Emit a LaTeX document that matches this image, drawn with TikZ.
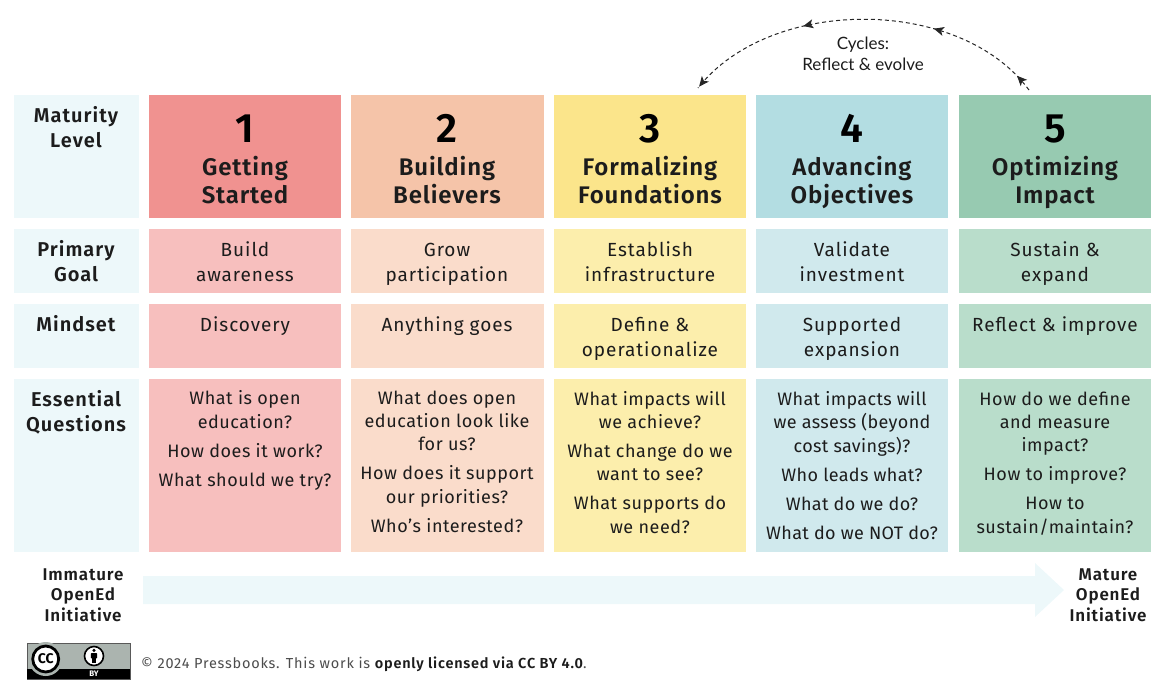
\documentclass[tikz,border=0pt]{standalone}
\usepackage{fontspec}
\setmainfont{Fira Sans}
\newfontfamily\lato{Lato}
\newfontfamily\bodyf{Fira Sans}[LetterSpace=5]
\newfontfamily\qf{Fira Sans}[LetterSpace=3]
\newfontfamily\qdf{Fira Sans}[LetterSpace=2]
\newfontfamily\headf{Fira Sans}[LetterSpace=5,BoldFont={Fira Sans SemiBold}]
\newfontfamily\bigf{Fira Sans}[LetterSpace=3.5,BoldFont={Fira Sans SemiBold}]
\newfontfamily\footf{Fira Sans}[LetterSpace=5.4,BoldFont={Fira Sans SemiBold}]
\newfontfamily\badgef{Fira Sans}[BoldFont={Fira Sans Bold}]
\usetikzlibrary{arrows.meta,decorations.markings}
\definecolor{ink}{HTML}{1C1C1C}
\definecolor{lab}{HTML}{EDF8FA}
\definecolor{badge}{HTML}{ABB4AF}
\definecolor{ca}{HTML}{F09290}\definecolor{cb}{HTML}{F5C4A9}\definecolor{cc}{HTML}{FBE58B}\definecolor{cd}{HTML}{B3DDE2}\definecolor{ce}{HTML}{97CAB1}
\definecolor{la}{HTML}{F7BFBE}\definecolor{lb}{HTML}{FADCCB}\definecolor{lc}{HTML}{FCEEAC}\definecolor{ld}{HTML}{D0E9ED}\definecolor{le}{HTML}{B9DDCB}
\tikzset{
  cellbox/.style={inner sep=0pt,outer sep=0pt,anchor=north west},
  txt/.style={inner sep=0pt,align=center,anchor=base,text=ink,font=\bodyf\fontsize{19}{24.7}\selectfont},
  qtxt/.style={txt,font=\qf\fontsize{18}{23.3}\selectfont},
  qdtxt/.style={txt,font=\qdf\fontsize{18}{23.3}\selectfont},
  head/.style={txt,font=\headf\fontsize{20}{24.2}\selectfont\bfseries},
  big/.style={txt,font=\bigf\fontsize{24}{28}\selectfont\bfseries},
  num/.style={txt,font=\bigf\fontsize{41}{40}\selectfont\bfseries,text=black},
  side/.style={txt,font=\headf\fontsize{17}{20.6}\selectfont\bfseries},
  flow/.style={-,black!85,line width=1pt,dash pattern=on 4pt off 3pt}
}
\newcommand{\cellat}[6]{\node[cellbox,fill=#6,minimum width=#4pt,minimum height=#5pt] (#1) at (#2,#3) {};}
\begin{document}
\begin{tikzpicture}[x=1pt,y=-1pt]
\useasboundingbox (0,0) rectangle (1170,694);
% labels
\cellat{l1}{14}{95}{125}{123}{lab}
\cellat{l2}{14}{229}{125}{64}{lab}
\cellat{l3}{14}{304}{125}{64}{lab}
\cellat{l4}{14}{379}{125}{173}{lab}
\node[head] (t1) at (76,147) {Maturity\\Level};
\node[head] (t2) at (76,281) {Primary\\Goal};
\node[head] (t3) at (76,331) {Mindset};
\node[head] (t4) at (76,431) {Essential\\Questions};
% headers
\cellat{a1}{149}{95}{192}{123}{ca}
\cellat{b1}{351}{95}{193}{123}{cb}
\cellat{c1}{554}{95}{192}{123}{cc}
\cellat{d1}{756}{95}{192}{123}{cd}
\cellat{e1}{959}{95}{192}{123}{ce}
\node[num] (na) at (245,142) {1};
\node[num] (nb) at (447,142) {2};
\node[num] (nc) at (650,142) {3};
\node[num] (nd) at (852,142) {4};
\node[num] (ne) at (1055,142) {5};
\node[big] (ha) at (245,203.5) {Getting\\Started};
\node[big] (hb) at (447,203.5) {Building\\Believers};
\node[big] (hc) at (650,203.5) {Formalizing\\Foundations};
\node[big] (hd) at (852,203.5) {Advancing\\Objectives};
\node[big] (he) at (1055,203.5) {Optimizing\\Impact};
% goal
\cellat{a2}{149}{229}{192}{64}{la}
\cellat{b2}{351}{229}{193}{64}{lb}
\cellat{c2}{554}{229}{192}{64}{lc}
\cellat{d2}{756}{229}{192}{64}{ld}
\cellat{e2}{959}{229}{192}{64}{le}
\node[txt] (ga) at (245,281) {Build\\awareness};
\node[txt] (gb) at (447,281) {Grow\\participation};
\node[txt] (gc) at (650,281) {Establish\\infrastructure};
\node[txt] (gd) at (852,281) {Validate\\investment};
\node[txt] (ge) at (1055,281) {Sustain \&\\expand};
% mindset
\cellat{a3}{149}{304}{192}{64}{la}
\cellat{b3}{351}{304}{193}{64}{lb}
\cellat{c3}{554}{304}{192}{64}{lc}
\cellat{d3}{756}{304}{192}{64}{ld}
\cellat{e3}{959}{304}{192}{64}{le}
\node[txt] (ma) at (245,331) {Discovery};
\node[txt] (mb) at (447,331) {Anything goes};
\node[txt] (mc) at (650,356) {Define \&\\operationalize};
\node[txt] (md) at (852,356) {Supported\\expansion};
\node[txt] (me) at (1055,331) {Reflect \& improve};
% questions
\cellat{a4}{149}{379}{192}{173}{la}
\cellat{b4}{351}{379}{193}{173}{lb}
\cellat{c4}{554}{379}{192}{173}{lc}
\cellat{d4}{756}{379}{192}{173}{ld}
\cellat{e4}{959}{379}{192}{173}{le}
\node[qtxt] (qa) at (245,486) {What is open\\education?\\[5.7pt]How does it work?\\[5.7pt]What should we try?};
\node[qtxt] (qb) at (447,532) {What does open\\education look like\\for us?\\[5.7pt]How does it support\\our priorities?\\[5.7pt]Who’s interested?};
\node[qtxt] (qc) at (650,533) {What impacts will\\we achieve?\\[5.7pt]What change do we\\want to see?\\[5.7pt]What supports do\\we need?};
\node[qdtxt] (qd) at (852,539) {What impacts will\\we assess (beyond\\cost savings)?\\[5.7pt]Who leads what?\\[5.7pt]What do we do?\\[5.7pt]What do we NOT do?};
\node[qtxt] (qe) at (1055,533) {How do we define\\and measure\\impact?\\[5.7pt]How to improve?\\[5.7pt]How to\\sustain/maintain?};
% progress arrow
\fill[lab] (143,576) -- (1035,576) -- (1035,563) -- (1064,590) -- (1035,617) -- (1035,604) -- (143,604) -- cycle;
\node[side] (im) at (83,621.5) {Immature\\OpenEd\\Initiative};
\node[side] (ma2) at (1108,621.5) {Mature\\OpenEd\\Initiative};
% cycles
\coordinate (cycS) at (1029,90);
\coordinate (cycE) at (698,88);
\draw[flow,postaction={decorate,decoration={markings,
  mark=at position 0.05 with {\arrow[solid]{Stealth[inset=2.5pt,length=10pt,width=9pt]}},
  mark=at position 0.31 with {\arrow[solid]{Stealth[inset=2.5pt,length=10pt,width=9pt]}},
  mark=at position 0.665 with {\arrow[solid]{Stealth[inset=2.5pt,length=10pt,width=9pt]}},
  mark=at position 0.995 with {\arrow[solid]{Stealth[inset=2.5pt,length=10pt,width=9pt]}}}}]
  (cycS) .. controls (960,-4) and (770,-4) .. (cycE);
\node[txt,text=ink,font=\lato\fontsize{17}{21}\selectfont] (cy) at (863,70) {Cycles:\\Reflect \& evolve};
% cc badge
\node[cellbox,fill=badge,draw=black!65,line width=0.7pt,minimum width=103pt,minimum height=36pt] (bd) at (27,643) {};
\fill[black] (27.3,669) rectangle (129.7,678.7);
\fill[badge] (45.7,659) circle (17pt);
\node[inner sep=0pt,text=white,font=\badgef\fontsize{8}{9}\selectfont\bfseries] (by) at (94,674) {BY};
\node[circle,fill=white,draw=black,line width=2.8pt,minimum size=26pt,inner sep=0pt,font=\badgef\fontsize{14}{14}\selectfont\bfseries,text=black] (ccn) at (45.7,659) {CC};
\node[circle,fill=white,draw=black,line width=1.6pt,minimum size=19pt,inner sep=0pt] (pn) at (94,656) {};
\fill[black] (94,650.3) circle (1.7pt);
\fill[black,rounded corners=0.8pt] (90.8,653) rectangle (97.2,658.4);
\fill[black] (92.4,658) rectangle (95.6,662.6);
\node[inner sep=0pt,anchor=base west,text=black!70,font=\footf\fontsize{14.5}{16}\selectfont] (lic) at (141,668) {© 2024 Pressbooks. This work is \textcolor{ink}{\bfseries openly licensed via CC BY 4.0}.};
\end{tikzpicture}
\end{document}
